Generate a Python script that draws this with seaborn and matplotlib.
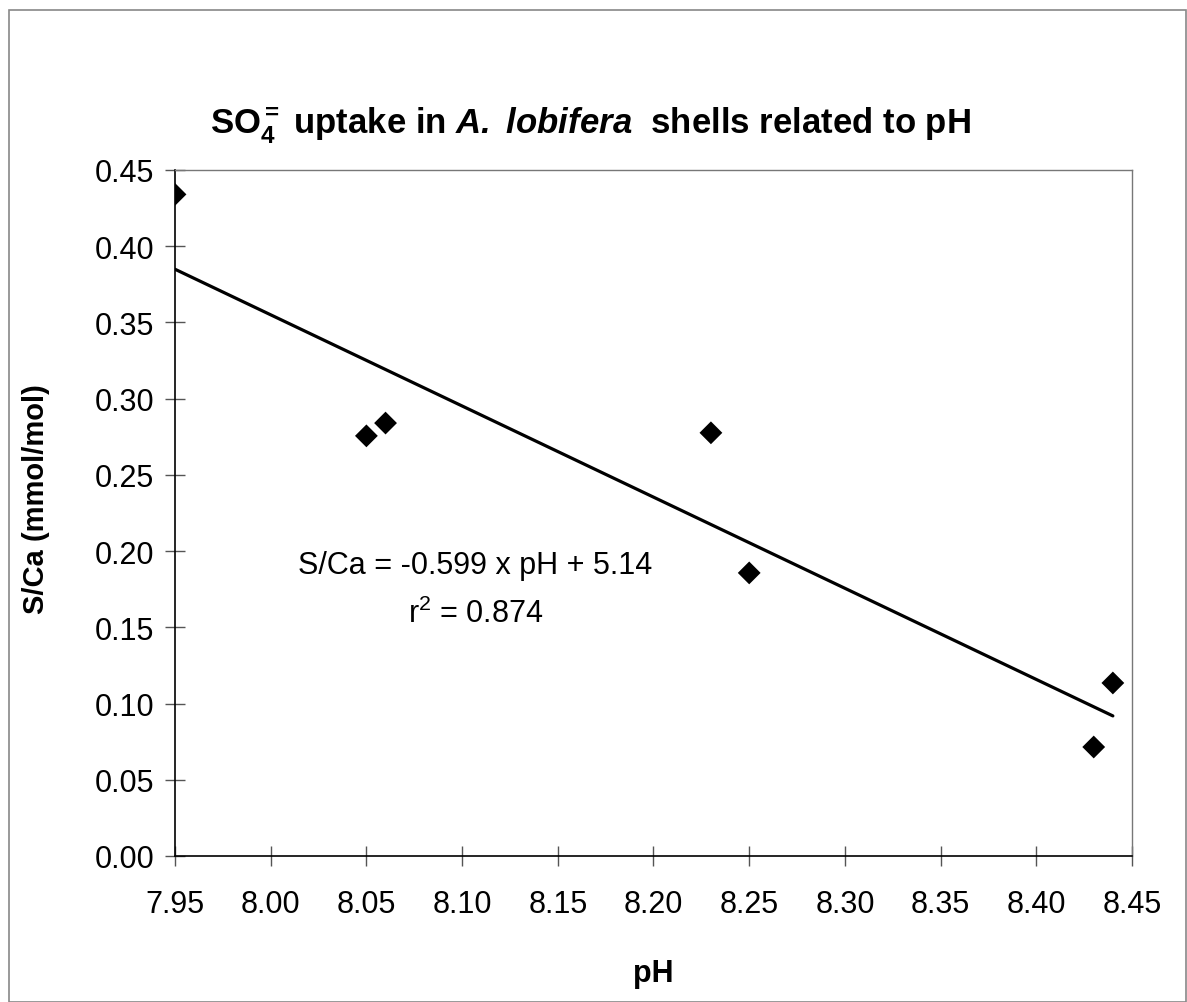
import matplotlib
matplotlib.use("Agg")
import matplotlib.pyplot as plt
import seaborn as sns
import pandas as pd
from matplotlib.patches import Rectangle

# Data
ph = [7.95, 8.05, 8.06, 8.23, 8.25, 8.43, 8.44]
s_ca = [0.434, 0.2756, 0.284, 0.2776, 0.1857, 0.0715, 0.1135]
x_ticks = [7.95, 8.00, 8.05, 8.10, 8.15, 8.20, 8.25, 8.30, 8.35, 8.40, 8.45]
y_ticks = [0.00, 0.05, 0.10, 0.15, 0.20, 0.25, 0.30, 0.35, 0.40, 0.45]

df = pd.DataFrame({"pH": ph, "S/Ca": s_ca})

sns.set_theme(style="white")
plt.rcParams["font.family"] = ["Liberation Sans", "DejaVu Sans"]
plt.rcParams["text.color"] = "black"
plt.rcParams["axes.labelcolor"] = "black"
plt.rcParams["xtick.color"] = "black"
plt.rcParams["ytick.color"] = "black"
plt.rcParams["mathtext.fontset"] = "custom"
plt.rcParams["mathtext.rm"] = "Liberation Sans"
plt.rcParams["mathtext.it"] = "Liberation Sans:italic"
plt.rcParams["mathtext.bf"] = "Liberation Sans:bold"
plt.rcParams["mathtext.bfit"] = "Liberation Sans:bold:italic"

fig = plt.figure(figsize=(11.87, 10.03), dpi=100)
ax = fig.add_axes([175 / 1187, 1 - 857 / 1003, (1132 - 175) / 1187, (857 - 171) / 1003])

sns.regplot(data=df, x="pH", y="S/Ca", ax=ax, ci=None, truncate=True,
            marker="D", color="black",
            scatter_kws=dict(s=135, color="black", edgecolors="none", alpha=1, zorder=3),
            line_kws=dict(color="black", lw=2.3, zorder=2))

ax.set_xlim(7.95, 8.45)
ax.set_ylim(0, 0.45)
ax.set_xticks(x_ticks)
ax.set_yticks(y_ticks)
ax.set_xticklabels([f"{v:.2f}" for v in x_ticks])
ax.set_yticklabels([f"{v:.2f}" for v in y_ticks])
ax.tick_params(axis="both", which="major", direction="inout", length=14, width=1,
               color="#555555", labelsize=22, labelcolor="black",
               bottom=True, left=True)
ax.tick_params(axis="x", pad=17)
ax.tick_params(axis="y", pad=8)

for side in ["left", "bottom"]:
    ax.spines[side].set_color("black")
    ax.spines[side].set_linewidth(1.2)
for side in ["top", "right"]:
    ax.spines[side].set_visible(True)
    ax.spines[side].set_color("#777777")
    ax.spines[side].set_linewidth(1.0)

ax.set_xlabel("pH", fontsize=22, fontweight="bold", labelpad=28)
ax.set_ylabel("S/Ca (mmol/mol)", fontsize=21, fontweight="bold")
ax.yaxis.set_label_coords(-0.131, 0.522)

fig.text(0.497, 1 - 126 / 1003,
         r"SO$_\mathbf{4}^{\mathbf{=}}$ uptake in $\mathbfit{A.\ lobifera}$  shells related to pH",
         ha="center", va="center", fontsize=25, fontweight="bold")

ax.text(8.107, 0.191, "S/Ca = -0.599 x pH + 5.14", ha="center", va="center", fontsize=22)
ax.text(8.107, 0.159, r"r$^2$ = 0.874", ha="center", va="center", fontsize=22)

fig.add_artist(Rectangle((9 / 1187, 0), 1 - 9 / 1187 - 0.001, 1 - 11 / 1003,
                         transform=fig.transFigure, fill=False, edgecolor="#888888", lw=1.2))

fig.savefig("out.png", dpi=100, facecolor="white")
